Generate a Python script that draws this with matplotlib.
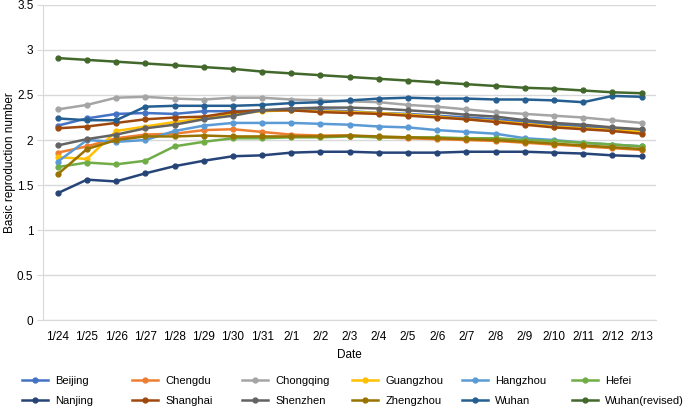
import matplotlib
matplotlib.use("Agg")
import matplotlib.pyplot as plt

plt.rcParams['font.family'] = ['Liberation Sans', 'DejaVu Sans']

dates = ['1/24', '1/25', '1/26', '1/27', '1/28', '1/29', '1/30', '1/31', '2/1', '2/2',
         '2/3', '2/4', '2/5', '2/6', '2/7', '2/8', '2/9', '2/10', '2/11', '2/12', '2/13']

beijing   = [2.16, 2.24, 2.29, 2.30, 2.29, 2.32, 2.32, 2.33, 2.34, 2.33, 2.32, 2.30, 2.29, 2.27, 2.25, 2.23, 2.20, 2.17, 2.15, 2.13, 2.11]
chengdu   = [1.86, 1.93, 2.02, 2.06, 2.07, 2.11, 2.12, 2.09, 2.06, 2.05, 2.05, 2.03, 2.02, 2.01, 2.00, 1.99, 1.97, 1.95, 1.93, 1.91, 1.89]
chongqing = [2.34, 2.39, 2.47, 2.48, 2.46, 2.45, 2.47, 2.47, 2.45, 2.44, 2.43, 2.42, 2.39, 2.37, 2.34, 2.31, 2.29, 2.27, 2.25, 2.22, 2.19]
guangzhou = [1.81, 1.79, 2.10, 2.15, 2.20, 2.24, 2.29, 2.32, 2.33, 2.32, 2.31, 2.30, 2.28, 2.26, 2.23, 2.21, 2.18, 2.15, 2.13, 2.11, 2.09]
hangzhou  = [1.76, 2.00, 1.98, 2.00, 2.10, 2.16, 2.19, 2.19, 2.19, 2.18, 2.17, 2.15, 2.14, 2.11, 2.09, 2.07, 2.02, 2.00, 1.97, 1.95, 1.93]
hefei     = [1.70, 1.75, 1.73, 1.77, 1.93, 1.98, 2.02, 2.02, 2.03, 2.03, 2.04, 2.03, 2.03, 2.03, 2.02, 2.02, 2.00, 1.99, 1.97, 1.95, 1.93]
nanjing   = [1.41, 1.56, 1.54, 1.63, 1.71, 1.77, 1.82, 1.83, 1.86, 1.87, 1.87, 1.86, 1.86, 1.86, 1.87, 1.87, 1.87, 1.86, 1.85, 1.83, 1.82]
shanghai  = [2.13, 2.15, 2.19, 2.23, 2.25, 2.26, 2.31, 2.33, 2.33, 2.31, 2.30, 2.29, 2.27, 2.25, 2.23, 2.20, 2.17, 2.14, 2.12, 2.10, 2.07]
shenzhen  = [1.94, 2.01, 2.06, 2.13, 2.17, 2.23, 2.27, 2.33, 2.35, 2.36, 2.36, 2.35, 2.33, 2.31, 2.28, 2.26, 2.22, 2.19, 2.17, 2.14, 2.12]
zhengzhou = [1.62, 1.90, 2.00, 2.04, 2.04, 2.05, 2.04, 2.04, 2.04, 2.04, 2.05, 2.04, 2.03, 2.02, 2.01, 2.00, 1.98, 1.96, 1.94, 1.92, 1.90]
wuhan     = [2.24, 2.22, 2.22, 2.37, 2.38, 2.38, 2.38, 2.39, 2.41, 2.42, 2.44, 2.46, 2.47, 2.46, 2.46, 2.45, 2.45, 2.44, 2.42, 2.49, 2.48]
wuhan_rev = [2.91, 2.89, 2.87, 2.85, 2.83, 2.81, 2.79, 2.76, 2.74, 2.72, 2.70, 2.68, 2.66, 2.64, 2.62, 2.60, 2.58, 2.57, 2.55, 2.53, 2.52]

series = [
    ('Beijing', beijing, '#4472c4'),
    ('Chengdu', chengdu, '#ed7d31'),
    ('Chongqing', chongqing, '#a5a5a5'),
    ('Guangzhou', guangzhou, '#ffc000'),
    ('Hangzhou', hangzhou, '#5b9bd5'),
    ('Hefei', hefei, '#70ad47'),
    ('Nanjing', nanjing, '#264478'),
    ('Shanghai', shanghai, '#9e480e'),
    ('Shenzhen', shenzhen, '#636363'),
    ('Zhengzhou', zhengzhou, '#997300'),
    ('Wuhan', wuhan, '#255e91'),
    ('Wuhan(revised)', wuhan_rev, '#43682b'),
]

fig = plt.figure(figsize=(6.85, 4.11), dpi=100)
ax = fig.add_axes([0.063, 0.221, 0.895, 0.767])

x = range(len(dates))
lines = []
for name, vals, col in series:
    ln, = ax.plot(x, vals, color=col, lw=1.8, marker='o', ms=3.5, label=name)
    lines.append(ln)

ax.set_xlim(-0.5, len(dates) - 0.5)
ax.set_ylim(0, 3.5)
ax.set_yticks([0, 0.5, 1, 1.5, 2, 2.5, 3, 3.5])
ax.set_yticklabels(['0', '0.5', '1', '1.5', '2', '2.5', '3', '3.5'])
ax.set_xticks(list(x))
ax.set_xticklabels(dates)
ax.grid(axis='y', color='#d9d9d9', lw=1)
ax.set_axisbelow(True)
for s in ['top', 'right']:
    ax.spines[s].set_visible(False)
ax.spines['left'].set_color('#d9d9d9')
ax.spines['bottom'].set_color('#d9d9d9')
ax.tick_params(axis='y', length=4, color='#d9d9d9', labelsize=8.5, pad=3)
ax.tick_params(axis='x', length=0, labelsize=8.5, pad=8)
ax.set_xlabel('Date', fontsize=8.5, labelpad=4)
ax.set_ylabel('Basic reproduction number', fontsize=8.5, labelpad=1)

# legend: six columns of two entries, evenly spaced like the original
for j in range(6):
    fig.legend([lines[j], lines[j + 6]], [series[j][0], series[j + 6][0]],
               loc='upper left', bbox_to_anchor=((22 + 110 * j) / 685, 0.085),
               frameon=False, fontsize=8, handlelength=2.3, handletextpad=0.7,
               labelspacing=0.9, borderpad=0, borderaxespad=0)

fig.savefig('out.png', dpi=100)
